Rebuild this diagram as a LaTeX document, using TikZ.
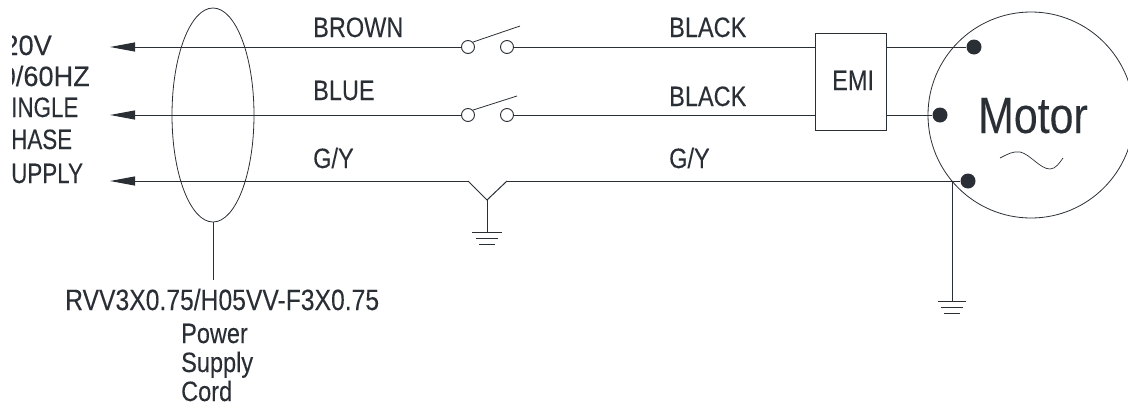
\documentclass[tikz,border=0pt]{standalone}
\usepackage{fontspec}
\usetikzlibrary{shapes.geometric,arrows.meta}
\setmainfont[FakeStretch=0.84,FakeBold=0.12]{Liberation Sans}
\newfontfamily\narrowf[FakeStretch=0.8,FakeBold=0.12]{Liberation Sans}
\newfontfamily\widef[FakeStretch=0.97,FakeBold=0.12]{Liberation Sans}
\definecolor{ink}{HTML}{2A2F36}
\tikzset{
  wire/.style={draw=ink,line width=1pt},
  hair/.style={draw=ink,line width=0.8pt},
  lbl/.style={text=ink,font=\fontsize{28}{30}\selectfont,inner sep=0pt,anchor=base west},
  side/.style={lbl,font=\narrowf\fontsize{28}{30}\selectfont},
  sidewide/.style={lbl,font=\widef\fontsize{28}{30}\selectfont,anchor=base east},
  terminal/.style={circle,draw=ink,line width=0.9pt,fill=white,minimum size=13pt,inner sep=0pt},
  dot/.style={circle,fill=ink,minimum size=15pt,inner sep=0pt},
  outarrow/.style={wire,-{Triangle[length=25pt,width=9pt]}}
}
\begin{document}
\begin{tikzpicture}[x=1pt,y=-1pt]
\useasboundingbox (0,0) rectangle (1128,410);
\begin{scope}
\clip (12,0) rectangle (300,200);
\node[sidewide] (v) at (52,55) {20V};
\node[sidewide] (hz) at (90,86) {0/60HZ};
\node[side] (si) at (11,117) {INGLE};
\node[side] (ph) at (11,149) {HASE};
\node[side] (su) at (11,183) {UPPLY};
\end{scope}
% named points
\coordinate (a1) at (110,47);
\coordinate (a2) at (110,115);
\coordinate (a3) at (110,181);
\coordinate (y1) at (468,181);
\coordinate (y2) at (507,181);
\coordinate (ym) at (487,200);
\coordinate (g1) at (487,232);
\coordinate (g2) at (952,301);
\coordinate (j) at (952,181);
\coordinate (b1) at (520,26);
\coordinate (b2) at (517,96);
\coordinate (c1) at (213,280);
% EMI
\node[draw=ink,line width=1.1pt,minimum width=71pt,minimum height=97pt,inner sep=0pt,anchor=north west] (emi) at (815,33) {};
% motor
\node[circle,hair,minimum size=206pt,inner sep=0pt] (motor) at (1031,115) {};
% dots
\node[dot] (d1) at (974,47) {};
\node[dot] (d2) at (940,115) {};
\node[dot] (d3) at (968,181) {};
% switches
\node[terminal] (s1a) at (468,47) {};
\node[terminal] (s1b) at (507,47) {};
\node[terminal] (s2a) at (468,115) {};
\node[terminal] (s2b) at (507,115) {};
% wires
\draw[outarrow] (s1a.west) -- (a1);
\draw[outarrow] (s2a.west) -- (a2);
\draw[outarrow] (y1) -- (a3);
\draw[wire] (s1b.east) -- (emi.west |- s1b);
\draw[wire] (s2b.east) -- (emi.west |- s2b);
\draw[wire] (emi.east |- d1) -- (d1);
\draw[wire] (emi.east |- d2) -- (d2);
\draw[wire] (y2) -- (d3);
\draw[wire] (y1) -- (ym) -- (y2);
\draw[wire] (ym) -- (g1);
\draw[wire] (j) -- (g2);
\draw[hair] (s1a.north east) -- (b1);
\draw[hair] (s2a.north east) -- (b2);
% grounds
\draw[wire] ([xshift=-15pt]g1) -- ([xshift=15pt]g1);
\draw[wire] ([shift={(-11,6)}]g1) -- ([shift={(11,6)}]g1);
\draw[wire] ([shift={(-8,12)}]g1) -- ([shift={(8,12)}]g1);
\draw[wire] ([xshift=-14pt]g2) -- ([xshift=14pt]g2);
\draw[wire] ([shift={(-11,6)}]g2) -- ([shift={(11,6)}]g2);
\draw[wire] ([shift={(-8,12)}]g2) -- ([shift={(8,12)}]g2);
% cord
\node[ellipse,hair,minimum width=82pt,minimum height=214pt,inner sep=0pt] (cord) at (213,115) {};
\draw[wire] (cord.south) -- (c1);
% tilde
\draw[draw=ink,line width=0.7pt] (1000,158) .. controls (1008,154) and (1013,151) .. (1020,152) .. controls (1030,154) and (1040,169) .. (1050,169) .. controls (1056,169) and (1060,162) .. (1063,158);
% labels
\node[lbl] (tb) at (313,37) {BROWN};
\node[lbl] (tk1) at (669,37) {BLACK};
\node[lbl] (tu) at (313,100) {BLUE};
\node[lbl] (tk2) at (669,106) {BLACK};
\node[lbl] (tg1) at (313,168) {G/Y};
\node[lbl] (tg2) at (669,168) {G/Y};
\node[lbl] (te) at (832,90) {EMI};
\node[lbl,font=\fontsize{51}{54}\selectfont] (tm) at (978,133) {Motor};
\node[lbl,font=\fontsize{29.4}{30}\selectfont] (r) at (65,310) {RVV3X0.75/H05VV-F3X0.75};
\node[lbl] (p1) at (181,343) {Power};
\node[lbl] (p2) at (181,372) {Supply};
\node[lbl] (p3) at (181,401) {Cord};
\end{tikzpicture}
\end{document}
